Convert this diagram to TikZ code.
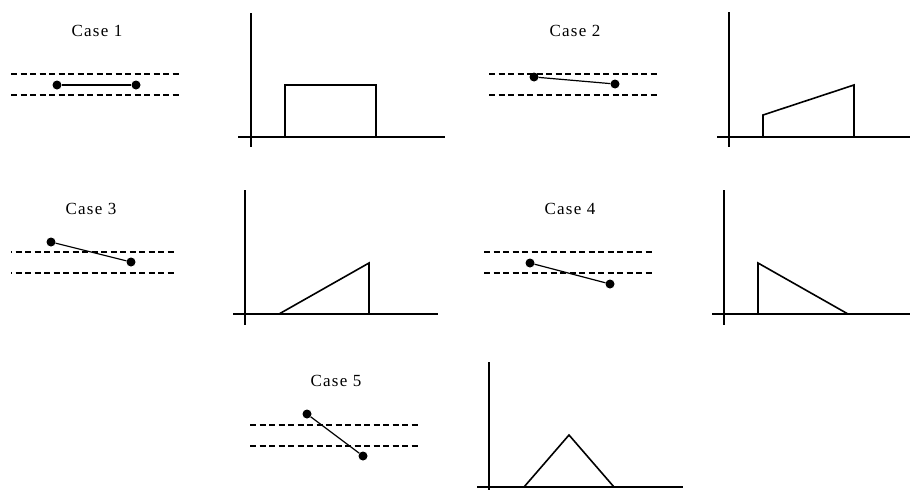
\documentclass[tikz,border=0pt]{standalone}
\usepackage{fontspec}
\setmainfont{Liberation Serif}
\newfontfamily\casefont[LetterSpace=7]{Liberation Serif}
\begin{document}
\begin{tikzpicture}[x=1pt, y=-1pt,
  label/.style={font=\casefont\fontsize{17}{19}\selectfont, inner sep=0pt},
  pt/.style={circle, fill=black, inner sep=0pt, minimum size=9pt},
  band/.style={dashed, line width=1.4pt, dash pattern=on 6pt off 3.5pt},
  rod/.style={line width=1.2pt},
  axis/.style={line width=1.8pt},
  curve/.style={line width=1.6pt}]
  \useasboundingbox (0,0) rectangle (910,490);

  % case 1
  \node (lab1) [label] at (97,31) {Case 1};
  \draw[band] (11,74) -- (180,74);
  \draw[band] (11,95) -- (180,95);
  \node (a1) [pt] at (57,85) {};
  \node (b1) [pt] at (136,85) {};
  \draw[rod] (a1) -- (b1);
  \draw[axis] (251,13) -- (251,147);
  \draw[axis] (238,137) -- (445,137);
  \draw[curve] (285,137) -- (285,85) -- (376,85) -- (376,137);

  % case 2
  \node (lab2) [label] at (575,31) {Case 2};
  \draw[band] (489,74) -- (659,74);
  \draw[band] (489,95) -- (659,95);
  \node (a2) [pt] at (534,77) {};
  \node (b2) [pt] at (615,84) {};
  \draw[rod] (a2) -- (b2);
  \draw[axis] (729,12) -- (729,147);
  \draw[axis] (717,137) -- (910,137);
  \draw[curve] (763,137) -- (763,115) -- (854,85) -- (854,137);

  % case 3
  \node (lab3) [label] at (91,209) {Case 3};
  \draw[band, dash phase=5pt] (11,252) -- (174,252);
  \draw[band, dash phase=5pt] (11,273) -- (174,273);
  \node (a3) [pt] at (51,242) {};
  \node (b3) [pt] at (131,262) {};
  \draw[rod] (a3) -- (b3);
  \draw[axis] (245,190) -- (245,325);
  \draw[axis] (233,314) -- (438,314);
  \draw[curve] (279,314) -- (369,263) -- (369,314);

  % case 4
  \node (lab4) [label] at (570,209) {Case 4};
  \draw[band] (484,252) -- (653,252);
  \draw[band] (484,273) -- (653,273);
  \node (a4) [pt] at (530,263) {};
  \node (b4) [pt] at (610,284) {};
  \draw[rod] (a4) -- (b4);
  \draw[axis] (724,190) -- (724,325);
  \draw[axis] (712,314) -- (910,314);
  \draw[curve] (758,314) -- (758,263) -- (848,314);

  % case 5
  \node (lab5) [label] at (336,381) {Case 5};
  \draw[band] (250,425) -- (419,425);
  \draw[band] (250,446) -- (419,446);
  \node (a5) [pt] at (307,414) {};
  \node (b5) [pt] at (363,456) {};
  \draw[rod] (a5) -- (b5);
  \draw[axis] (489,362) -- (489,490);
  \draw[axis] (477,487) -- (683,487);
  \draw[curve] (524,487) -- (569,435) -- (614,487);
\end{tikzpicture}
\end{document}
